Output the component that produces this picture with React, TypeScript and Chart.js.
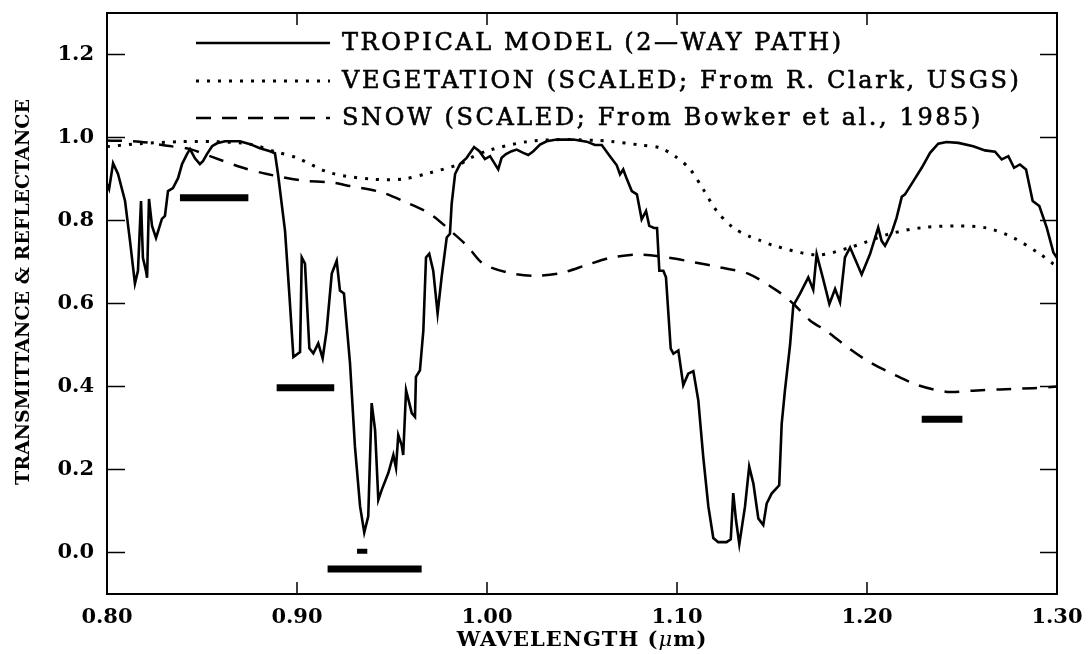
import { useEffect, useRef } from 'react';
import { Chart, registerables } from 'chart.js';

Chart.register(...registerables);

// ---------------- data ----------------
const X_TICKS = [0.8, 0.9, 1.0, 1.1, 1.2, 1.3];
const Y_TICKS = [0.0, 0.2, 0.4, 0.6, 0.8, 1.0, 1.2];

const SERIES_LABELS = [
  'TROPICAL MODEL (2\u2014WAY PATH)',
  'VEGETATION (SCALED; From R. Clark, USGS)',
  'SNOW (SCALED; From Bowker et al., 1985)',
];

// [wavelength (um), transmittance]
const TROPICAL: [number, number][] = [
  [0.8, 0.888], [0.8011, 0.876], [0.8032, 0.938], [0.8058, 0.912], [0.8095, 0.847],
  [0.8121, 0.751], [0.8147, 0.648], [0.8163, 0.679], [0.8179, 0.847], [0.8189, 0.71],
  [0.8205, 0.679], [0.8211, 0.662], [0.8221, 0.852], [0.8237, 0.787], [0.8258, 0.758],
  [0.8289, 0.804], [0.8305, 0.811], [0.8321, 0.871], [0.8347, 0.878], [0.8374, 0.902],
  [0.8395, 0.936], [0.8421, 0.96], [0.8437, 0.972], [0.8463, 0.95], [0.8489, 0.936],
  [0.8505, 0.943], [0.8526, 0.96], [0.8553, 0.979], [0.8579, 0.986], [0.8621, 0.991],
  [0.87, 0.991], [0.8753, 0.984], [0.8805, 0.974], [0.8858, 0.967], [0.8884, 0.962],
  [0.89, 0.912], [0.8937, 0.775], [0.896, 0.62], [0.8981, 0.471], [0.9016, 0.483],
  [0.9025, 0.711], [0.9042, 0.696], [0.9065, 0.492], [0.9086, 0.48], [0.9112, 0.504],
  [0.9135, 0.468], [0.9156, 0.535], [0.9183, 0.672], [0.9209, 0.703], [0.9226, 0.631],
  [0.9247, 0.624], [0.9279, 0.456], [0.9305, 0.255], [0.9332, 0.111], [0.9354, 0.048],
  [0.9375, 0.087], [0.9393, 0.36], [0.9411, 0.295], [0.9428, 0.127], [0.9446, 0.151],
  [0.9481, 0.192], [0.9507, 0.235], [0.9521, 0.204], [0.9533, 0.283], [0.9551, 0.259],
  [0.9559, 0.235], [0.9574, 0.391], [0.9591, 0.36], [0.9604, 0.336], [0.9621, 0.327],
  [0.9626, 0.423], [0.9647, 0.439], [0.9665, 0.535], [0.9679, 0.711], [0.9696, 0.72],
  [0.9717, 0.679], [0.974, 0.576], [0.9761, 0.663], [0.9788, 0.759], [0.9805, 0.768],
  [0.9814, 0.84], [0.9832, 0.912], [0.9858, 0.936], [0.9893, 0.951], [0.9932, 0.977],
  [0.996, 0.967], [0.9989, 0.948], [1.0016, 0.955], [1.0059, 0.923], [1.0077, 0.951],
  [1.01, 0.96], [1.013, 0.967], [1.0156, 0.971], [1.0191, 0.963], [1.0217, 0.958],
  [1.0244, 0.967], [1.0279, 0.983], [1.0314, 0.991], [1.0367, 0.995], [1.0454, 0.995],
  [1.0525, 0.99], [1.0568, 0.982], [1.0604, 0.982], [1.0647, 0.955], [1.0683, 0.933],
  [1.07, 0.911], [1.0717, 0.923], [1.0735, 0.901], [1.0762, 0.871], [1.0789, 0.863],
  [1.0814, 0.803], [1.0837, 0.823], [1.0854, 0.787], [1.0879, 0.782], [1.0895, 0.782],
  [1.0907, 0.679], [1.0928, 0.679], [1.0942, 0.663], [1.0967, 0.491], [1.0981, 0.479],
  [1.1007, 0.487], [1.1033, 0.403], [1.1059, 0.431], [1.1086, 0.437], [1.1112, 0.367],
  [1.1138, 0.231], [1.1165, 0.111], [1.1191, 0.035], [1.1217, 0.025], [1.1261, 0.025],
  [1.1283, 0.032], [1.1296, 0.143], [1.131, 0.08], [1.1328, 0.02], [1.1358, 0.111],
  [1.138, 0.207], [1.1402, 0.166], [1.1428, 0.082], [1.1454, 0.066], [1.1472, 0.118],
  [1.1498, 0.142], [1.1538, 0.162], [1.1551, 0.31], [1.1568, 0.39], [1.1595, 0.5],
  [1.1612, 0.595], [1.1647, 0.623], [1.1691, 0.663], [1.1717, 0.633], [1.1735, 0.719],
  [1.1767, 0.663], [1.1802, 0.599], [1.1832, 0.635], [1.1858, 0.603], [1.1884, 0.711],
  [1.1911, 0.735], [1.1972, 0.67], [1.2016, 0.719], [1.2059, 0.783], [1.2077, 0.751],
  [1.2095, 0.739], [1.213, 0.771], [1.2156, 0.807], [1.2183, 0.857], [1.22, 0.863],
  [1.2244, 0.895], [1.2288, 0.927], [1.2332, 0.963], [1.2375, 0.985], [1.2419, 0.989],
  [1.2481, 0.987], [1.2559, 0.979], [1.2621, 0.969], [1.2674, 0.966], [1.2709, 0.947],
  [1.2744, 0.955], [1.2774, 0.927], [1.2805, 0.935], [1.2837, 0.923], [1.2872, 0.847],
  [1.2907, 0.835], [1.2946, 0.783], [1.2981, 0.723], [1.3, 0.71],
];

// [wavelength (um), scaled reflectance]
const VEGETATION: [number, number][] = [
  [0.8, 0.978], [0.8174, 0.985], [0.8384, 0.99], [0.8568, 0.99], [0.8753, 0.984],
  [0.8884, 0.966], [0.9, 0.951], [0.9174, 0.915], [0.9384, 0.9], [0.9558, 0.9],
  [0.97, 0.915], [0.9858, 0.936], [0.991, 0.95], [1.0016, 0.97], [1.021, 0.99],
  [1.0384, 0.995], [1.0579, 0.993], [1.0647, 0.991], [1.0805, 0.982], [1.091, 0.975],
  [1.0989, 0.955], [1.1068, 0.924], [1.1137, 0.876], [1.1209, 0.823], [1.1295, 0.783],
  [1.1384, 0.761], [1.1437, 0.752], [1.1505, 0.74], [1.1735, 0.717], [1.191, 0.735],
  [1.2121, 0.768], [1.2295, 0.783], [1.2472, 0.787], [1.263, 0.782], [1.2768, 0.759],
  [1.2911, 0.719], [1.2979, 0.696], [1.3, 0.69],
];

// [wavelength (um), scaled reflectance]
const SNOW: [number, number][] = [
  [0.8, 0.993], [0.8174, 0.99], [0.8316, 0.98], [0.8437, 0.972], [0.8542, 0.955],
  [0.8716, 0.927], [0.8842, 0.912], [0.9016, 0.897], [0.9189, 0.891], [0.9279, 0.883],
  [0.9437, 0.869], [0.9558, 0.847], [0.97, 0.816], [0.9821, 0.77], [0.9895, 0.739],
  [0.9979, 0.696], [1.0105, 0.675], [1.0242, 0.667], [1.0384, 0.673], [1.0526, 0.693],
  [1.0647, 0.71], [1.0789, 0.718], [1.0947, 0.711], [1.1095, 0.699], [1.1226, 0.687],
  [1.1374, 0.672], [1.1526, 0.631], [1.1611, 0.6], [1.17, 0.559], [1.1789, 0.533],
  [1.1911, 0.49], [1.2016, 0.458], [1.2137, 0.43], [1.2263, 0.404], [1.2421, 0.387],
  [1.2558, 0.39], [1.27, 0.393], [1.2874, 0.396], [1.3, 0.4],
];

// band markers: [start um, end um, level]
const BANDS: [number, number, number][] = [
  [0.8384, 0.8744, 0.855],
  [0.8893, 0.9196, 0.397],
  [0.9161, 0.9656, -0.04],
  [0.9316, 0.937, 0.003],
  [1.2288, 1.2502, 0.321],
];

const toXY = (arr: [number, number][]) => arr.map(([x, y]) => ({ x, y }));

const FAMILY = '"DejaVu Serif", "Liberation Serif", serif';

const overlayPlugin = {
  id: 'overlay',
  afterDatasetsDraw(chart: any) {
    const { ctx, chartArea } = chart;
    const { left, right, top, bottom } = chartArea;
    const xs = chart.scales.x;
    const ys = chart.scales.y;
    ctx.save();
    ctx.strokeStyle = '#000';
    ctx.fillStyle = '#000';
    ctx.setLineDash([]);
    // frame
    ctx.lineWidth = 2;
    ctx.strokeRect(left, top, right - left, bottom - top);
    // inward ticks
    ctx.lineWidth = 1.5;
    const seg = (a: number, b: number, c: number, d: number) => {
      ctx.beginPath();
      ctx.moveTo(a, b);
      ctx.lineTo(c, d);
      ctx.stroke();
    };
    X_TICKS.forEach((v) => {
      const px = xs.getPixelForValue(v);
      seg(px, bottom, px, bottom - 12);
      seg(px, top, px, top + 12);
    });
    Y_TICKS.forEach((v) => {
      const py = ys.getPixelForValue(v);
      seg(left, py, left + 18, py);
      seg(right, py, right - 17, py);
    });

    // legend
    const rows = [top + 30, top + 68, top + 105];
    const x0 = left + 89;
    const x1 = left + 223;
    const tx = left + 235;
    ctx.textBaseline = 'middle';
    ctx.textAlign = 'left';
    for (let i = 0; i < 3; i++) {
      const ds = chart.data.datasets[i];
      ctx.save();
      ctx.lineWidth = ds.borderWidth;
      ctx.setLineDash(ds.borderDash || []);
      ctx.lineCap = 'butt';
      seg(x0, rows[i], x1, rows[i]);
      ctx.restore();
      ctx.save();
      ctx.font = `24px ${FAMILY}`;
      (ctx as any).letterSpacing = '2.6px';
      ctx.lineWidth = 0.6;
      ctx.fillText(ds.label, tx, rows[i] + 1);
      ctx.strokeText(ds.label, tx, rows[i] + 1);
      ctx.restore();
    }

    // x title
    ctx.save();
    (ctx as any).letterSpacing = '1px';
    const cx = (left + right) / 2;
    const ty = bottom + 47;
    const p1 = 'WAVELENGTH (';
    const p2 = '\u03bc';
    const p3 = 'm)';
    const fB = `bold 21px ${FAMILY}`;
    const fI = `italic 21px ${FAMILY}`;
    ctx.font = fB;
    const w1 = ctx.measureText(p1).width;
    const w3 = ctx.measureText(p3).width;
    ctx.font = fI;
    const w2 = ctx.measureText(p2).width;
    let sx = cx - (w1 + w2 + w3) / 2;
    ctx.font = fB;
    ctx.fillText(p1, sx, ty);
    sx += w1;
    ctx.font = fI;
    ctx.fillText(p2, sx, ty);
    sx += w2;
    ctx.font = fB;
    ctx.fillText(p3, sx, ty);
    ctx.restore();

    // y title
    ctx.save();
    ctx.translate(24, 292);
    ctx.rotate(-Math.PI / 2);
    ctx.textAlign = 'center';
    ctx.textBaseline = 'middle';
    ctx.font = `bold 19px ${FAMILY}`;
    ctx.fillText('TRANSMITTANCE & REFLECTANCE', 0, 0);
    ctx.restore();

    ctx.restore();
  },
};

export default function App() {
  const ref = useRef<HTMLCanvasElement>(null);

  useEffect(() => {
    document.body.style.margin = '0';
    const canvas = ref.current;
    if (!canvas) return;

    const bandSets = BANDS.map(([a, b, v], i) => ({
      label: `band${i}`,
      data: [
        { x: a, y: v },
        { x: b, y: v },
      ],
      borderColor: '#000',
      borderWidth: i === 3 ? 5 : 7,
      borderCapStyle: 'butt' as const,
      pointRadius: 0,
      tension: 0,
    }));

    const tickFont = { family: FAMILY, size: 21, weight: 'bold' as const };

    const chart = new Chart(canvas, {
      type: 'line',
      data: {
        datasets: [
          {
            label: SERIES_LABELS[0],
            data: toXY(TROPICAL),
            borderColor: '#000',
            borderWidth: 2.6,
            pointRadius: 0,
            tension: 0,
          },
          {
            label: SERIES_LABELS[1],
            data: toXY(VEGETATION),
            borderColor: '#000',
            borderWidth: 3,
            borderDash: [3, 8],
            borderCapStyle: 'butt',
            pointRadius: 0,
            tension: 0.3,
          },
          {
            label: SERIES_LABELS[2],
            data: toXY(SNOW),
            borderColor: '#000',
            borderWidth: 2.5,
            borderDash: [15, 11],
            borderCapStyle: 'butt',
            pointRadius: 0,
            tension: 0.3,
          },
          ...bandSets,
        ],
      },
      options: {
        animation: false,
        responsive: true,
        maintainAspectRatio: false,
        layout: { padding: { top: 13, right: 33, left: 0, bottom: 0 } },
        plugins: {
          legend: { display: false },
          tooltip: { enabled: false },
        },
        scales: {
          x: {
            type: 'linear',
            min: 0.8,
            max: 1.3,
            afterBuildTicks: (s: any) => {
              s.ticks = X_TICKS.map((value) => ({ value }));
            },
            afterFit: (s: any) => {
              s.height = 60;
              s.paddingLeft = 0;
              s.paddingRight = 0;
            },
            ticks: {
              callback: (v: any) => Number(v).toFixed(2),
              font: tickFont,
              color: '#000',
              padding: 11,
              maxRotation: 0,
              autoSkip: false,
            },
            grid: { display: false, drawTicks: false },
            border: { display: false },
          },
          y: {
            type: 'linear',
            min: -0.1,
            max: 1.3,
            afterBuildTicks: (s: any) => {
              s.ticks = Y_TICKS.map((value) => ({ value }));
            },
            afterFit: (s: any) => {
              s.width = 107;
              s.paddingTop = 0;
              s.paddingBottom = 0;
            },
            ticks: {
              callback: (v: any) => Number(v).toFixed(1),
              font: tickFont,
              color: '#000',
              padding: 13,
              autoSkip: false,
            },
            grid: { display: false, drawTicks: false },
            border: { display: false },
          },
        },
      },
      plugins: [overlayPlugin],
    });

    return () => chart.destroy();
  }, []);

  return (
    <div style={{ width: 1090, height: 654, position: 'relative', background: '#fff' }}>
      <canvas ref={ref} />
    </div>
  );
}
